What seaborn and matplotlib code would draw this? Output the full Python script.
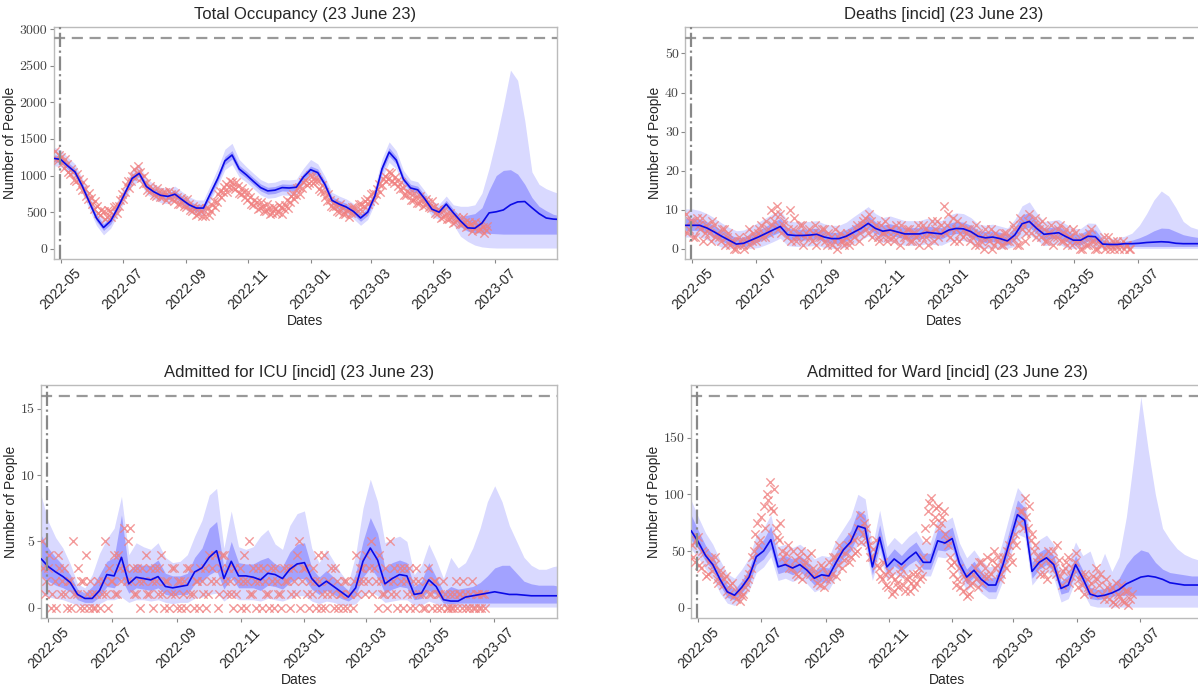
import pandas as pd
import matplotlib
matplotlib.use("Agg")
import matplotlib.pyplot as plt
import matplotlib.dates as mdates
import seaborn as sns

# observations: two interleaved day series (every 3 days each) and a weekly model grid
obs_dates = pd.date_range("2022-04-25", periods=142, freq="3D")
obs_dates_b = pd.date_range("2022-04-26", periods=142, freq="3D")
model_dates = pd.date_range("2022-04-24", periods=72, freq="7D")
start_line = pd.Timestamp("2022-04-30")

# ---- Total Occupancy ----
occ_obs = [1330, 1210, 1250, 1100, 1160, 1020, 1050, 920, 950, 800,
           820, 680, 690, 540, 580, 460, 520, 440, 510, 480,
           590, 580, 750, 770, 920, 930, 1090, 1040, 1050, 890,
           900, 780, 810, 720, 780, 710, 770, 700, 750, 650,
           700, 610, 660, 570, 610, 520, 560, 470, 520, 450,
           550, 520, 650, 640, 790, 770, 880, 840, 910, 820,
           860, 750, 770, 660, 700, 600, 640, 550, 590, 510,
           560, 490, 550, 500, 570, 540, 660, 640, 750, 730,
           850, 830, 940, 900, 990, 920, 930, 790, 780, 650,
           670, 570, 590, 500, 550, 480, 540, 490, 570, 520,
           610, 580, 680, 650, 760, 750, 880, 870, 1000, 950,
           1030, 900, 930, 810, 830, 730, 760, 670, 700, 620,
           670, 600, 640, 550, 570, 480, 520, 440, 480, 400,
           440, 370, 400, 340, 370, 310, 340, 285, 315, 265,
           295, 250]
occ_obs_b = [1230, 1285, 1165, 1220, 1055, 1090, 945, 1015, 860, 905,
             720, 755, 610, 650, 485, 525, 408, 529, 430, 575,
             490, 665, 675, 870, 830, 995, 975, 1130, 960, 990,
             805, 860, 735, 825, 700, 775, 670, 787, 675, 755,
             610, 693, 590, 675, 530, 585, 455, 560, 450, 550,
             460, 595, 575, 750, 700, 840, 770, 925, 835, 915,
             760, 835, 705, 770, 610, 665, 540, 640, 520, 610,
             470, 567, 485, 595, 480, 600, 550, 725, 675, 825,
             750, 905, 870, 1005, 900, 985, 820, 875, 710, 745,
             580, 645, 520, 605, 470, 535, 435, 575, 495, 615,
             515, 655, 610, 750, 670, 810, 770, 955, 920, 1050,
             930, 985, 855, 910, 740, 790, 660, 755, 630, 720,
             580, 673, 577, 650, 495, 540, 420, 525, 410, 493,
             350, 440, 343, 430, 295, 362, 248, 360, 255, 350,
             215, 315]
occ_med = [1235, 1220, 1130, 1050, 860, 640, 420, 290, 380, 560,
           760, 960, 1030, 850, 780, 730, 715, 745, 670, 600,
           556, 556, 760, 960, 1200, 1280, 1090, 1010, 920, 835,
           790, 800, 835, 830, 840, 980, 1080, 1040, 880, 660,
           610, 570, 510, 420, 500, 720, 1090, 1320, 1210, 950,
           830, 805, 680, 540, 500, 610, 490, 380, 285, 280,
           350, 490, 505, 530, 600, 640, 645, 560, 480, 420,
           405, 400]
occ_lo50 = [1190, 1175, 1085, 1005, 815, 595, 375, 250, 335, 515,
            715, 915, 985, 805, 735, 685, 670, 700, 625, 555,
            511, 511, 715, 915, 1150, 1225, 1040, 965, 875, 790,
            745, 755, 790, 785, 795, 935, 1035, 995, 835, 615,
            565, 525, 465, 375, 455, 675, 1040, 1265, 1160, 905,
            785, 760, 635, 495, 455, 560, 440, 300, 240, 220,
            215, 210, 205, 200, 200, 200, 200, 200, 200, 200,
            200, 200]
occ_hi50 = [1285, 1270, 1180, 1100, 910, 690, 470, 340, 430, 610,
            810, 1010, 1080, 900, 830, 780, 765, 795, 720, 650,
            606, 606, 810, 1010, 1260, 1340, 1140, 1060, 970, 885,
            840, 850, 885, 880, 890, 1030, 1130, 1090, 930, 710,
            660, 620, 560, 470, 550, 770, 1150, 1380, 1260, 1000,
            880, 855, 730, 590, 560, 660, 540, 440, 460, 480,
            560, 800, 1000, 1070, 1080, 1020, 880, 700, 580, 520,
            470, 450]
occ_lo95 = [1135, 1120, 1030, 950, 760, 540, 320, 190, 280, 460,
            660, 860, 930, 750, 680, 630, 615, 645, 570, 500,
            456, 456, 660, 860, 1080, 1150, 980, 910, 820, 735,
            690, 700, 735, 730, 740, 880, 980, 940, 780, 560,
            510, 470, 410, 320, 400, 620, 960, 1180, 1090, 850,
            730, 705, 580, 440, 400, 480, 330, 170, 100, 50,
            25, 15, 10, 10, 10, 10, 10, 10, 10, 10,
            10, 10]
occ_hi95 = [1390, 1350, 1250, 1160, 970, 750, 530, 400, 490, 670,
            870, 1080, 1160, 960, 890, 840, 825, 855, 780, 710,
            666, 666, 880, 1100, 1360, 1440, 1220, 1120, 1030, 945,
            900, 910, 945, 940, 950, 1100, 1220, 1160, 990, 770,
            720, 680, 620, 530, 610, 850, 1230, 1460, 1340, 1070,
            940, 915, 790, 650, 610, 720, 600, 580, 580, 600,
            760, 1100, 1500, 1950, 2440, 2300, 1750, 1050, 880, 820,
            780, 750]

# ---- Deaths ----
dth_obs = [9, 5, 7, 3, 6, 8, 4, 5, 2, 6,
           4, 2, 5, 3, 1, 2, 0, 3, 1, 2,
           5, 2, 3, 4, 6, 3, 5, 10, 7, 11,
           9, 6, 3, 10, 5, 2, 4, 6, 3, 5,
           2, 6, 4, 3, 5, 1, 3, 2, 0, 4,
           2, 3, 1, 4, 5, 2, 6, 8, 4, 7,
           5, 3, 6, 4, 2, 5, 3, 6, 1, 4,
           3, 5, 2, 4, 6, 3, 5, 1, 4, 2,
           7, 4, 11, 6, 3, 8, 5, 2, 6, 4,
           5, 3, 1, 4, 2, 0, 3, 5, 1, 2,
           3, 1, 4, 2, 6, 3, 1, 5, 2, 7,
           4, 8, 6, 3, 5, 2, 4, 1, 3, 6,
           2, 5, 3, 1, 4, 2, 0, 3, 1, 5,
           2, 0, 1, 3, 1, 0, 2, 1, 0, 2,
           1, 0]
dth_obs_b = [4, 7, 3, 8, 5, 2, 6, 4, 7, 3,
             3, 5, 1, 4, 2, 0, 1, 2, 0, 3,
             1, 4, 2, 5, 3, 7, 4, 6, 9, 5,
             4, 7, 5, 2, 8, 3, 6, 1, 4, 3,
             4, 1, 3, 5, 2, 4, 1, 5, 3, 2,
             1, 4, 2, 3, 6, 4, 7, 5, 9, 3,
             6, 2, 4, 7, 3, 5, 2, 4, 6, 3,
             5, 2, 4, 3, 1, 6, 3, 4, 7, 5,
             3, 6, 4, 9, 5, 2, 7, 4, 3, 5,
             2, 4, 6, 1, 3, 5, 2, 0, 4, 3,
             1, 4, 2, 3, 5, 1, 8, 6, 4, 9,
             6, 3, 5, 7, 2, 4, 6, 3, 5, 2,
             4, 1, 3, 5, 2, 0, 3, 1, 4, 2,
             0, 2, 1, 0, 3, 1, 0, 2, 1, 0,
             1, 0]
dth_med = [6.0, 6.0, 6.0, 5.3, 4.3, 3.2, 2.2, 1.2, 1.4, 2.2,
           3.0, 3.9, 4.8, 5.7, 3.6, 3.4, 3.4, 3.5, 3.7, 3.0,
           2.6, 2.6, 3.2, 4.2, 5.2, 6.5, 5.2, 4.5, 4.8, 4.3,
           3.8, 3.8, 3.8, 4.2, 4.0, 3.8, 4.8, 5.2, 5.1, 4.4,
           3.2, 2.8, 3.0, 2.6, 2.0, 3.5, 6.4, 7.0, 5.2, 3.7,
           3.9, 4.1, 3.1, 2.2, 2.2, 3.2, 3.1, 1.2, 1.1, 1.1,
           1.3, 1.3, 1.4, 1.6, 1.7, 1.8, 1.7, 1.4, 1.3, 1.3,
           1.3, 1.3]
dth_lo50 = [4.7, 4.7, 4.7, 4.0, 3.0, 2.0, 1.0, 0.5, 0.5, 1.0,
            1.8, 2.6, 3.5, 4.3, 2.4, 2.2, 2.2, 2.3, 2.5, 1.8,
            1.4, 1.4, 2.0, 2.9, 3.9, 5.0, 3.9, 3.2, 3.5, 3.0,
            2.5, 2.5, 2.5, 2.9, 2.7, 2.5, 3.5, 3.9, 3.8, 3.1,
            2.0, 1.6, 1.8, 1.4, 0.9, 2.2, 4.9, 5.5, 3.9, 2.4,
            2.6, 2.8, 1.9, 1.0, 1.0, 2.0, 1.9, 0.6, 0.6, 0.6,
            0.6, 0.6, 0.6, 0.6, 0.6, 0.6, 0.6, 0.6, 0.6, 0.6,
            0.6, 0.6]
dth_hi50 = [7.8, 7.8, 7.6, 6.9, 5.9, 4.8, 3.8, 2.8, 3.0, 3.8,
            4.7, 5.7, 6.8, 7.8, 5.3, 5.0, 5.0, 5.1, 5.3, 4.6,
            4.2, 4.2, 4.9, 6.0, 7.2, 8.6, 6.9, 6.1, 6.4, 5.9,
            5.4, 5.4, 5.4, 5.8, 5.6, 5.4, 6.5, 7.0, 6.8, 6.0,
            4.8, 4.4, 4.6, 4.2, 3.6, 5.4, 8.6, 9.3, 7.0, 5.3,
            5.5, 5.7, 4.7, 3.8, 3.8, 4.9, 4.8, 2.4, 1.6, 1.7,
            1.9, 2.2, 2.8, 3.6, 4.6, 5.3, 5.2, 4.4, 3.6, 3.2,
            2.9, 2.8]
dth_lo95 = [3.0, 3.0, 3.0, 2.3, 1.3, 0.4, 0.1, 0.1, 0.1, 0.1,
            0.3, 1.0, 1.8, 2.7, 0.8, 0.6, 0.6, 0.7, 0.9, 0.3,
            0.1, 0.1, 0.4, 1.3, 2.2, 3.3, 2.2, 1.6, 1.8, 1.3,
            0.9, 0.9, 0.9, 1.3, 1.1, 0.9, 1.8, 2.2, 2.1, 1.5,
            0.4, 0.1, 0.2, 0.1, 0.1, 0.6, 3.2, 3.7, 2.2, 0.8,
            1.0, 1.2, 0.3, 0.1, 0.1, 0.4, 0.3, 0.1, 0.1, 0.1,
            0.1, 0.1, 0.1, 0.1, 0.1, 0.1, 0.1, 0.1, 0.1, 0.1,
            0.1, 0.1]
dth_hi95 = [10.2, 10.2, 9.8, 9.0, 7.9, 6.6, 5.5, 4.6, 4.8, 5.7,
            6.8, 7.9, 9.0, 9.8, 7.2, 6.9, 6.9, 7.0, 7.2, 6.4,
            6.0, 6.0, 6.8, 8.2, 9.5, 10.8, 9.0, 8.0, 8.4, 7.8,
            7.2, 7.2, 7.2, 7.8, 7.5, 7.2, 8.6, 9.2, 9.0, 8.0,
            6.4, 6.0, 6.3, 5.8, 5.3, 7.5, 11.0, 12.0, 9.2, 7.0,
            7.2, 7.5, 6.3, 5.2, 5.2, 6.6, 6.5, 3.6, 2.6, 2.8,
            3.2, 4.0, 6.0, 9.0, 12.5, 14.8, 13.5, 10.5, 7.0, 5.6,
            5.0, 4.8]

# ---- Admitted for ICU ----
icu_obs = [5, 1, 3, 0, 2, 4, 1, 3, 0, 2,
           5, 1, 0, 2, 4, 0, 1, 0, 2, 1,
           5, 0, 2, 4, 1, 3, 6, 2, 6, 3,
           1, 2, 3, 4, 1, 2, 3, 1, 4, 0,
           2, 1, 3, 0, 2, 1, 0, 3, 1, 2,
           0, 2, 3, 1, 2, 4, 0, 3, 4, 1,
           2, 0, 1, 3, 2, 0, 5, 1, 2, 3,
           0, 2, 1, 3, 0, 2, 1, 3, 2, 0,
           3, 1, 5, 2, 3, 0, 1, 2, 4, 0,
           4, 1, 3, 0, 2, 1, 0, 2, 1, 0,
           4, 2, 3, 1, 2, 5, 3, 0, 2, 1,
           0, 5, 2, 1, 3, 0, 2, 3, 1, 0,
           2, 1, 0, 3, 1, 2, 0, 1, 2, 0,
           1, 0, 2, 1, 0, 1, 0, 2, 0, 1,
           0, 1]
icu_obs_b = [3, 2, 4, 1, 0, 3, 2, 1, 2, 0,
             1, 3, 2, 0, 1, 2, 0, 1, 0, 2,
             1, 3, 2, 1, 4, 2, 3, 5, 2, 1,
             3, 0, 2, 1, 3, 0, 2, 3, 1, 2,
             0, 3, 1, 2, 0, 2, 3, 1, 0, 2,
             3, 1, 0, 4, 3, 2, 1, 4, 2, 3,
             1, 3, 2, 0, 4, 2, 1, 3, 0, 2,
             3, 1, 0, 2, 3, 1, 0, 2, 3, 1,
             2, 4, 0, 3, 1, 2, 3, 0, 2, 1,
             0, 2, 1, 3, 0, 1, 2, 0, 1, 2,
             1, 3, 2, 4, 3, 1, 2, 4, 1, 3,
             2, 1, 3, 0, 2, 3, 1, 0, 2, 3,
             1, 0, 2, 1, 0, 2, 1, 0, 1, 0,
             0, 1, 0, 1, 2, 0, 1, 0, 1, 0,
             1, 0]
icu_med = [3.7, 3.1, 2.7, 2.35, 1.9, 1.0, 0.7, 0.7, 1.3, 2.5,
           2.4, 3.8, 1.8, 2.3, 2.2, 2.1, 2.35, 1.6, 1.5, 1.6,
           1.7, 2.7, 3.0, 3.8, 4.3, 2.2, 3.5, 2.4, 2.4, 2.3,
           2.1, 2.6, 2.5, 2.2, 2.9, 3.3, 3.4, 2.2, 1.6, 2.0,
           1.6, 1.2, 0.8, 1.5, 3.5, 4.5, 3.6, 1.8, 2.2, 2.5,
           2.4, 1.0, 1.1, 2.1, 1.6, 0.6, 0.5, 0.5, 0.8, 0.9,
           1.0, 1.1, 1.2, 1.1, 1.0, 1.0, 0.95, 0.9, 0.9, 0.9,
           0.9, 0.9]
icu_lo50 = [2.4, 2.0, 1.7, 1.5, 1.2, 0.6, 0.4, 0.4, 0.8, 1.6,
            1.5, 2.2, 1.1, 1.5, 1.4, 1.3, 1.5, 1.0, 0.9, 1.0,
            1.0, 1.8, 2.0, 2.5, 2.8, 1.4, 2.3, 1.5, 1.5, 1.5,
            1.3, 1.7, 1.6, 1.4, 1.9, 2.2, 2.2, 1.4, 1.0, 1.3,
            1.0, 0.7, 0.5, 0.9, 2.3, 3.0, 2.3, 1.1, 1.4, 1.6,
            1.5, 0.6, 0.7, 1.3, 1.0, 0.35, 0.3, 0.35, 0.35, 0.35,
            0.35, 0.35, 0.35, 0.35, 0.35, 0.35, 0.35, 0.35, 0.35, 0.35,
            0.35, 0.35]
icu_hi50 = [5.5, 4.5, 3.8, 3.2, 2.5, 1.4, 1.1, 1.6, 2.5, 3.5,
            3.8, 7.0, 2.8, 3.3, 3.2, 3.2, 3.6, 2.6, 2.4, 2.4,
            2.6, 3.8, 4.5, 6.0, 6.5, 3.0, 5.0, 3.4, 3.3, 3.3,
            3.6, 3.8, 3.3, 3.1, 4.2, 4.8, 4.9, 3.0, 2.3, 2.8,
            2.3, 1.8, 1.3, 2.6, 5.0, 6.8, 5.6, 3.0, 3.4, 3.6,
            3.4, 1.6, 2.0, 3.4, 2.3, 1.2, 1.6, 1.4, 1.5, 1.6,
            1.9, 2.4, 3.0, 3.2, 3.2, 2.6, 2.0, 1.8, 1.7, 1.7,
            1.7, 1.6]
icu_lo95 = [1.0, 0.8, 0.7, 0.6, 0.4, 0.2, 0.15, 0.15, 0.3, 0.6,
            0.6, 0.8, 0.4, 0.6, 0.6, 0.5, 0.6, 0.4, 0.3, 0.4,
            0.4, 0.7, 0.8, 1.0, 1.1, 0.5, 0.9, 0.6, 0.6, 0.6,
            0.5, 0.7, 0.6, 0.5, 0.7, 0.9, 0.9, 0.5, 0.3, 0.5,
            0.4, 0.2, 0.15, 0.3, 0.9, 1.2, 0.9, 0.4, 0.5, 0.6,
            0.6, 0.2, 0.2, 0.5, 0.3, 0.1, 0.05, 0.05, 0.05, 0.05,
            0.05, 0.05, 0.05, 0.05, 0.05, 0.05, 0.05, 0.05, 0.05, 0.05,
            0.05, 0.05]
icu_hi95 = [8.5, 6.5, 5.3, 4.5, 3.3, 1.8, 1.5, 2.5, 4.1, 5.2,
            6.0, 8.4, 4.0, 4.9, 4.6, 4.4, 4.9, 3.8, 3.4, 3.5,
            4.0, 5.4, 6.6, 8.5, 9.0, 4.5, 7.3, 4.6, 4.4, 4.6,
            5.4, 5.9, 4.8, 4.4, 6.2, 7.1, 7.3, 4.5, 3.4, 4.4,
            3.5, 2.6, 1.9, 4.0, 7.5, 9.7, 8.0, 4.9, 5.2, 5.4,
            5.0, 2.5, 3.2, 4.8, 3.6, 2.2, 3.8, 3.0, 3.4, 4.5,
            6.0, 8.0, 9.2, 8.0, 6.2, 5.0, 3.8, 3.2, 2.9, 2.9,
            3.1, 3.2]

# ---- Admitted for Ward ----
ward_obs = [55, 40, 62, 35, 48, 30, 44, 38, 25, 33,
            20, 28, 12, 22, 8, 15, 10, 18, 25, 35,
            50, 75, 60, 90, 100, 111, 85, 70, 60, 50,
            40, 55, 35, 42, 28, 50, 38, 45, 30, 35,
            30, 20, 35, 25, 40, 30, 45, 38, 50, 42,
            55, 45, 60, 50, 82, 65, 70, 55, 45, 60,
            35, 25, 30, 18, 28, 15, 22, 30, 20, 25,
            15, 30, 22, 35, 28, 70, 85, 97, 80, 90,
            75, 85, 60, 45, 30, 20, 35, 15, 25, 12,
            22, 35, 18, 40, 28, 45, 30, 50, 38, 25,
            45, 35, 55, 40, 65, 75, 85, 97, 70, 60,
            50, 40, 30, 45, 25, 38, 50, 30, 42, 20,
            35, 45, 28, 40, 18, 30, 12, 25, 15, 28,
            35, 20, 12, 25, 8, 18, 3, 12, 20, 5,
            15, 8]
ward_obs_b = [45, 60, 38, 50, 28, 40, 32, 45, 22, 30,
              25, 15, 20, 10, 14, 6, 12, 22, 30, 45,
              65, 55, 80, 70, 95, 88, 105, 62, 75, 45,
              48, 35, 50, 30, 45, 25, 40, 32, 48, 28,
              22, 38, 18, 30, 25, 45, 28, 55, 35, 48,
              40, 62, 48, 70, 58, 75, 60, 45, 52, 38,
              28, 40, 20, 32, 12, 25, 18, 35, 15, 28,
              22, 18, 30, 25, 45, 60, 92, 75, 88, 70,
              80, 65, 55, 38, 40, 25, 18, 28, 10, 20,
              30, 25, 40, 22, 35, 28, 42, 35, 45, 30,
              38, 50, 45, 60, 55, 85, 70, 80, 90, 65,
              55, 45, 38, 30, 50, 42, 35, 55, 28, 32,
              40, 22, 35, 48, 25, 20, 30, 18, 22, 12,
              25, 30, 8, 18, 15, 5, 22, 10, 6, 15,
              2, 12]
ward_med = [68, 58, 46, 38, 25, 14, 11, 18, 27, 45,
            50, 60, 36, 38, 35, 38, 33, 26, 29, 28,
            40, 51, 58, 72, 70, 36, 62, 36, 43, 38,
            44, 49, 40, 40, 59, 57, 61, 39, 27, 33,
            25, 20, 20, 38, 60, 82, 77, 32, 40, 44,
            38, 17, 20, 38, 26, 12, 10, 11, 13, 16,
            21, 24, 27, 28, 27, 25, 22, 21, 20, 20,
            20, 20]
ward_lo50 = [60, 52, 41, 33, 20, 9, 7, 13, 21, 38,
             43, 52, 30, 32, 29, 32, 27, 20, 23, 22,
             34, 44, 50, 64, 61, 29, 54, 30, 37, 32,
             38, 42, 34, 34, 51, 50, 53, 33, 21, 27,
             19, 14, 14, 31, 52, 74, 69, 26, 34, 38,
             32, 12, 14, 31, 20, 8, 7, 8, 10, 11,
             11, 11, 11, 11, 11, 11, 11, 11, 11, 11,
             11, 11]
ward_hi50 = [82, 68, 55, 46, 32, 20, 16, 24, 34, 54,
             60, 72, 44, 46, 43, 46, 41, 33, 36, 35,
             49, 60, 68, 86, 82, 44, 73, 44, 52, 46,
             53, 58, 48, 48, 69, 67, 71, 47, 34, 41,
             32, 26, 27, 47, 71, 95, 88, 40, 49, 53,
             46, 23, 29, 46, 33, 18, 16, 17, 20, 26,
             38, 46, 51, 49, 40, 34, 31, 30, 29, 28,
             28, 28]
ward_lo95 = [52, 44, 34, 26, 13, 4, 2, 7, 15, 31,
             36, 45, 24, 26, 23, 26, 21, 14, 17, 16,
             27, 37, 43, 56, 54, 24, 47, 24, 30, 26,
             31, 35, 28, 28, 45, 44, 47, 27, 15, 21,
             13, 8, 8, 24, 45, 65, 62, 20, 28, 32,
             26, 5, 8, 24, 14, 2, 0.5, 0.5, 0.5, 0.5,
             0.5, 0.5, 0.5, 0.5, 0.5, 0.5, 0.5, 0.5, 0.5, 0.5,
             0.5, 0.5]
ward_hi95 = [95, 80, 66, 56, 42, 30, 26, 34, 44, 64,
             70, 82, 54, 56, 53, 56, 51, 43, 46, 45,
             60, 70, 80, 100, 96, 54, 86, 54, 62, 56,
             63, 68, 58, 58, 78, 76, 80, 57, 44, 51,
             42, 36, 37, 60, 84, 106, 98, 50, 60, 64,
             56, 33, 40, 58, 46, 50, 32, 48, 32, 45,
             80, 130, 186, 140, 100, 70, 60, 52, 47, 44,
             42, 41]

titles = ["Total Occupancy (23 June 23)", "Deaths [incid] (23 June 23)",
          "Admitted for ICU [incid] (23 June 23)", "Admitted for Ward [incid] (23 June 23)"]
caps = [2880, 54, 16, 187]
yticks = [[0, 500, 1000, 1500, 2000, 2500, 3000], [0, 10, 20, 30, 40, 50],
          [0, 5, 10, 15], [0, 50, 100, 150]]

# axes boxes in figure fractions (right column runs past the figure edge)
rects = [[0.0447, 0.6242, 0.4206, 0.3362],
         [0.5718, 0.6242, 0.4316, 0.3362],
         [0.0342, 0.1039, 0.4311, 0.3381],
         [0.5768, 0.1039, 0.4274, 0.3381]]

sns.set_style("ticks")
plt.rcParams['font.family'] = ['Liberation Sans', 'DejaVu Sans']

fig = plt.figure(figsize=(11.98, 6.90), dpi=100)

series = [
    (occ_obs, occ_obs_b, occ_med, occ_lo50, occ_hi50, occ_lo95, occ_hi95),
    (dth_obs, dth_obs_b, dth_med, dth_lo50, dth_hi50, dth_lo95, dth_hi95),
    (icu_obs, icu_obs_b, icu_med, icu_lo50, icu_hi50, icu_lo95, icu_hi95),
    (ward_obs, ward_obs_b, ward_med, ward_lo50, ward_hi50, ward_lo95, ward_hi95),
]

for n, (obs, obs_b, med, lo50, hi50, lo95, hi95) in enumerate(series):
    ax = fig.add_axes(rects[n])
    ax.fill_between(model_dates, lo95, hi95, color="#0000ff", alpha=0.15, lw=0, zorder=1)
    ax.fill_between(model_dates, lo50, hi50, color="#0000ff", alpha=0.25, lw=0, zorder=2)
    for d, v in [(obs_dates, obs), (obs_dates_b, obs_b)]:
        sns.scatterplot(x=d, y=v, marker="x", color="#f08080", s=36,
                        linewidth=1.0, alpha=0.8, ax=ax, zorder=3)
    sns.lineplot(x=model_dates, y=med, color="#0a0ae6", lw=1.2, ax=ax, zorder=4)
    ax.axhline(caps[n], color="#999999", ls=(0, (5, 3)), lw=1.6, zorder=5)
    ax.axvline(start_line, color="#888888", ls="-.", lw=1.6, zorder=5)

    ax.set_xlim(pd.Timestamp("2022-04-24"), pd.Timestamp("2023-08-31"))
    ax.set_ylim(-0.05 * caps[n], 1.05 * caps[n])
    ax.set_yticks(yticks[n])
    ax.xaxis.set_major_locator(mdates.MonthLocator(bymonth=[1, 3, 5, 7, 9, 11]))
    ax.xaxis.set_major_formatter(mdates.DateFormatter("%Y-%m"))
    ax.tick_params(axis="x", labelrotation=45, labelsize=10, length=3, pad=2,
                   color="#888888")
    ax.tick_params(axis="y", labelsize=10, length=3, pad=1.5, color="#888888",
                   labelcolor="#444444")
    for lbl in ax.get_yticklabels():
        lbl.set_fontfamily("cmr10")
    for sp in ax.spines.values():
        sp.set_color("#bbbbbb")
        sp.set_linewidth(1.0)

    ax.set_title(titles[n], fontsize=12)
    ax.set_xlabel("Dates", fontsize=10, labelpad=1)
    ax.set_ylabel("Number of People", fontsize=10, labelpad=2)

fig.savefig("out.png", dpi=100)
